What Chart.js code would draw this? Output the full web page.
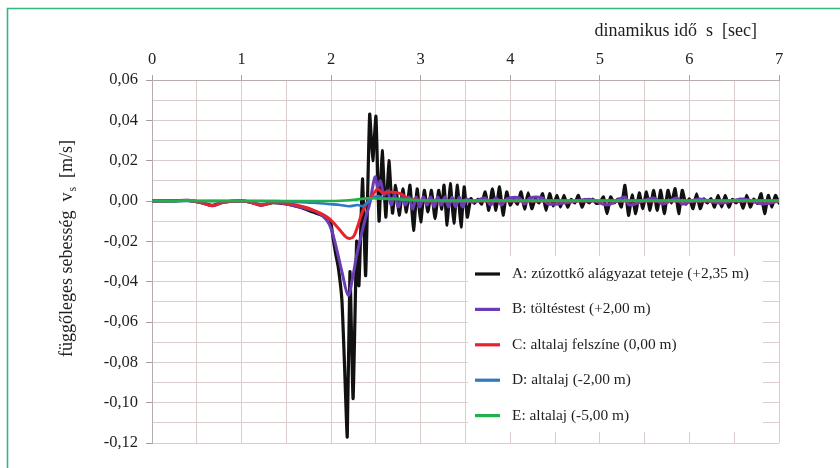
<!DOCTYPE html>
<html>
<head>
<meta charset="utf-8">
<script src="https://cdn.jsdelivr.net/npm/chart.js@4/dist/chart.umd.min.js"></script>
<style>
  html, body { margin: 0; padding: 0; background: #ffffff; }
  canvas { display: block; }
</style>
</head>
<body>
<canvas id="chart" width="840" height="468"></canvas>
<script>
// Axis texts
const xTitle = 'dinamikus idő  s  [sec]';
const yTitleMain = 'függőleges sebesség  v';
const yTitleSub = 's';
const yTitleTail = '  [m/s]';
const xTickLabels = ['0', '1', '2', '3', '4', '5', '6', '7'];
const yTickLabels = ['0,06', '0,04', '0,02', '0,00', '-0,02', '-0,04', '-0,06', '-0,08', '-0,10', '-0,12'];

// Series names and colours
const seriesNames = [
  'A: zúzottkő alágyazat teteje (+2,35 m)',
  'B: töltéstest (+2,00 m)',
  'C: altalaj felszíne (0,00 m)',
  'D: altalaj (-2,00 m)',
  'E: altalaj (-5,00 m)'
];
const seriesColors = ['#111111', '#6a3db4', '#e8232b', '#2f78c4', '#22b04e'];

// A: top of ballast (time s, velocity m/s)
const timeA = [
  0, 0.2, 0.4, 0.55, 0.67, 0.8, 1.0, 1.1, 1.22, 1.35,
  1.5, 1.6, 1.7, 1.8, 1.9, 1.99, 2.02, 2.05, 2.08, 2.12,
  2.15, 2.18, 2.21, 2.245, 2.285, 2.31, 2.35, 2.385, 2.43, 2.465,
  2.50, 2.535, 2.57, 2.61, 2.645, 2.685, 2.72, 2.76, 2.80, 2.84,
  2.88, 2.92, 2.96, 3.00, 3.04, 3.08, 3.12, 3.16, 3.20, 3.235,
  3.26, 3.295, 3.33, 3.37, 3.41, 3.45, 3.485, 3.52, 3.56, 3.60,
  3.64, 3.68, 3.72, 3.76, 3.80, 3.84, 3.88, 3.92, 3.96, 4.00,
  4.04, 4.08, 4.12, 4.16, 4.20, 4.24, 4.28, 4.32, 4.36, 4.40,
  4.44, 4.48, 4.52, 4.56, 4.60, 4.64, 4.68, 4.72, 4.76, 4.80,
  4.84, 4.88, 4.92, 4.96, 5.00, 5.04, 5.08, 5.12, 5.16, 5.20,
  5.24, 5.28, 5.32, 5.36, 5.40, 5.44, 5.48, 5.52, 5.56, 5.60,
  5.64, 5.68, 5.72, 5.76, 5.80, 5.84, 5.88, 5.92, 5.96, 6.00,
  6.04, 6.08, 6.12, 6.16, 6.20, 6.24, 6.28, 6.32, 6.36, 6.40,
  6.44, 6.48, 6.52, 6.56, 6.60, 6.64, 6.68, 6.72, 6.76, 6.80,
  6.84, 6.88, 6.92, 6.96, 7.00
];
const valuesA = [
  0, 0, 0.0003, -0.0008, -0.0022, -0.0005, 0, -0.0006, -0.002, -0.0008,
  -0.0015, -0.0025, -0.0038, -0.0055, -0.0072, -0.0095, -0.018, -0.026, -0.033, -0.049,
  -0.082, -0.117, -0.035, -0.098, -0.02, -0.042, 0.011, -0.037, 0.043, 0.02,
  0.042, -0.01, 0.025, -0.008, 0.02, -0.006, 0.0078, -0.007, 0.006, -0.0055,
  0.0078, -0.0145, 0.006, -0.0104, 0.0053, -0.0054, 0.0053, -0.0087, 0.0053, -0.004,
  0.0078, -0.012, 0.0086, -0.011, 0.0078, -0.0129, 0.007, -0.008, 0.0012, -0.0012,
  0.001, -0.0015, 0.0045, -0.0046, 0.006, -0.0046, 0.007, -0.007, 0.0045, -0.002,
  0.001, -0.0015, 0.0045, -0.004, 0.004, -0.0038, 0.001, -0.001, 0.0036, -0.0046,
  0.0036, -0.0025, 0.0028, -0.003, 0.0028, -0.003, 0.0008, -0.001, 0.0028, -0.003,
  0.0008, -0.001, 0.001, -0.0012, -0.0008, 0.002, -0.0063, 0.002, -0.001, 0.001,
  -0.003, 0.0078, -0.0071, 0.003, -0.0063, 0.004, -0.0038, 0.0045, -0.0046, 0.0053,
  -0.0046, 0.0053, -0.0063, 0.0053, -0.001, 0.0061, -0.0063, 0.0053, -0.0015, 0.001,
  -0.0038, 0.0036, -0.0038, 0.001, -0.001, 0.0012, -0.003, 0.0028, -0.003, 0.0028,
  -0.003, 0.0008, -0.001, 0.001, -0.0035, 0.0028, -0.003, 0.001, -0.0012, 0.0036,
  -0.0063, 0.0028, -0.003, 0.0028, -0.001
];

// B: embankment body
const timeB = [
  0, 0.4, 0.55, 0.67, 0.8, 1.0, 1.1, 1.22, 1.35, 1.5,
  1.6, 1.7, 1.8, 1.875, 1.95, 2.0, 2.06, 2.12, 2.19, 2.24,
  2.28, 2.32, 2.38, 2.43, 2.46, 2.49, 2.52, 2.55, 2.59, 2.63,
  2.67, 2.71, 2.75, 2.79, 2.83, 2.87, 2.91, 2.95, 2.99, 3.03,
  3.07, 3.11, 3.15, 3.19, 3.23, 3.27, 3.31, 3.35, 3.39, 3.43,
  3.47, 3.51, 3.58, 3.72, 3.78, 3.84, 3.90, 3.96, 4.1, 4.16,
  4.22, 4.36, 4.42, 4.6, 4.9, 5.08, 5.28, 5.33, 5.6, 5.7,
  5.86, 5.92, 6.1, 6.35, 6.6, 6.82, 7.0
];
const valuesB = [
  0, 0.0002, -0.0008, -0.0024, -0.0006, 0, -0.0006, -0.0021, -0.0008, -0.0015,
  -0.0025, -0.0035, -0.0048, -0.0065, -0.0095, -0.0138, -0.0236, -0.035, -0.0467, -0.038,
  -0.028, -0.02, -0.009, -0.0015, 0.006, 0.012, 0.007, 0.010, 0.003, 0.005,
  -0.002, 0.003, -0.003, 0.002, -0.002, 0.002, -0.004, 0.002, -0.003, 0.002,
  -0.002, 0.002, -0.003, 0.002, -0.002, 0.002, -0.003, 0.002, -0.003, 0.002,
  -0.003, 0.001, -0.0005, 0.0015, -0.002, 0.0015, -0.002, 0.001, 0.0015, -0.0015,
  0.0015, 0.0015, -0.0015, -0.001, 0.0008, -0.002, 0.002, -0.002, 0.0015, -0.0015,
  0.0015, -0.0015, 0.001, -0.001, 0.001, -0.0015, 0
];

// C: ground surface
const timeC = [
  0, 0.4, 0.55, 0.67, 0.8, 1.0, 1.1, 1.22, 1.35, 1.55,
  1.7, 1.8, 1.9, 1.98, 2.05, 2.1, 2.15, 2.2, 2.25, 2.3,
  2.34, 2.38, 2.42, 2.47, 2.52, 2.58, 2.65, 2.72, 2.78, 2.85,
  2.95, 3.1, 4.0, 5.0, 6.0, 7.0
];
const valuesC = [
  0, 0.0002, -0.0008, -0.0023, -0.0006, 0, -0.0006, -0.0021, -0.0008, -0.0015,
  -0.003, -0.0045, -0.0065, -0.0088, -0.012, -0.0145, -0.0172, -0.0186, -0.0176, -0.012,
  -0.0064, -0.0025, 0.0005, 0.0035, 0.0058, 0.004, 0.0045, 0.0042, 0.0035, 0.0015,
  0.0005, 0, 0, 0, 0, 0
];

// D: subsoil at -2 m
const timeD = [0, 1.4, 1.6, 1.8, 2.0, 2.1, 2.2, 2.3, 2.35, 2.4, 2.46, 2.52, 2.6, 2.7, 2.9, 3.1, 4.0, 5.0, 6.0, 7.0];
const valuesD = [0, 0, -0.0004, -0.0009, -0.0016, -0.002, -0.0026, -0.002, -0.0026, -0.001, 0.0015, 0.0025, 0.0012, 0.0012, 0.0005, 0, 0, 0, 0, 0];

// E: subsoil at -5 m
const timeE = [0, 0.3, 0.4, 0.5, 1.0, 2.0, 2.25, 2.4, 2.55, 2.75, 3.0, 3.5, 4.5, 5.5, 7.0];
const valuesE = [0, 0, 0.0004, 0, 0, 0, 0.0006, 0.0013, 0.0012, 0.0009, 0.0004, 0.0002, 0.0002, 0.0002, 0.0002];

const serif = '"Liberation Serif", "Times New Roman", serif';
const toPoints = (ts, vs) => ts.map((t, i) => ({ x: t, y: vs[i] }));

const seriesData = [
  toPoints(timeA, valuesA),
  toPoints(timeB, valuesB),
  toPoints(timeC, valuesC),
  toPoints(timeD, valuesD),
  toPoints(timeE, valuesE)
];
const lineWidths = [3.2, 3, 3, 2.6, 2.6];

const datasets = seriesData.map((pts, i) => ({
  label: seriesNames[i],
  data: pts,
  borderColor: seriesColors[i],
  backgroundColor: seriesColors[i],
  borderWidth: lineWidths[i],
  borderJoinStyle: 'round',
  borderCapStyle: 'round',
  pointRadius: 0,
  tension: i === 0 ? 0.15 : 0.35,
  fill: false,
  order: 5 - i
}));

const isMajorY = v => Math.round(v * 100) % 2 === 0;
const isMajorX = v => Math.abs(v - Math.round(v)) < 1e-6;

// Frame, axis titles and the legend box
const decorations = {
  id: 'decorations',
  beforeDraw(chart) {
    const c = chart.ctx;
    c.save();
    c.fillStyle = '#ffffff';
    c.fillRect(0, 0, chart.width, chart.height);
    c.strokeStyle = '#35b67a';
    c.lineWidth = 1.6;
    c.beginPath();
    c.moveTo(7.5, chart.height);
    c.lineTo(7.5, 8.5);
    c.lineTo(chart.width, 8.5);
    c.stroke();
    c.restore();
  },
  afterDraw(chart) {
    const c = chart.ctx;
    c.save();
    c.fillStyle = '#1e1e1e';

    // top axis title
    c.font = '18px ' + serif;
    c.textAlign = 'right';
    c.textBaseline = 'middle';
    c.fillText(xTitle, 757, 31);

    // rotated left axis title with subscript
    c.translate(67, 249);
    c.rotate(-Math.PI / 2);
    c.textAlign = 'left';
    c.font = '18px ' + serif;
    const w1 = c.measureText(yTitleMain).width;
    const w3 = c.measureText(yTitleTail).width;
    c.font = '12px ' + serif;
    const w2 = c.measureText(yTitleSub).width;
    let x0 = -(w1 + w2 + w3) / 2;
    c.font = '18px ' + serif;
    c.fillText(yTitleMain, x0, 0);
    c.font = '12px ' + serif;
    c.fillText(yTitleSub, x0 + w1 + 1, 6);
    c.font = '18px ' + serif;
    c.fillText(yTitleTail, x0 + w1 + w2 + 1, 0);
    c.restore();

    // legend
    c.save();
    c.fillStyle = '#ffffff';
    c.fillRect(468, 256, 295, 176);
    c.font = '15.4px ' + serif;
    c.textAlign = 'left';
    c.textBaseline = 'middle';
    seriesNames.forEach((name, i) => {
      const y = 274 + i * 35.4;
      c.strokeStyle = seriesColors[i];
      c.lineWidth = 3.2;
      c.beginPath();
      c.moveTo(475, y);
      c.lineTo(500, y);
      c.stroke();
      c.fillStyle = '#1e1e1e';
      c.fillText(name, 512, y);
    });
    c.restore();
  }
};

new Chart(document.getElementById('chart'), {
  type: 'line',
  data: { datasets },
  options: {
    responsive: false,
    animation: false,
    layout: { padding: { top: 0, left: 0, right: 61, bottom: 25 } },
    plugins: { legend: { display: false }, tooltip: { enabled: false } },
    scales: {
      x: {
        type: 'linear',
        position: 'top',
        min: 0,
        max: 7,
        afterFit(scale) { scale.height = 80; },
        ticks: {
          stepSize: 0.5,
          autoSkip: false,
          maxRotation: 0,
          padding: 5,
          color: '#1e1e1e',
          font: { family: serif, size: 16.5 },
          callback: v => isMajorX(v) ? xTickLabels[Math.round(v)] : ''
        },
        grid: {
          color: '#dccdcd',
          lineWidth: 1,
          tickLength: 5,
          tickColor: ctx => (ctx.tick && isMajorX(ctx.tick.value)) ? '#a89f9f' : 'rgba(0,0,0,0)'
        },
        border: { display: true, color: '#b8adad' }
      },
      y: {
        type: 'linear',
        min: -0.12,
        max: 0.06,
        afterFit(scale) { scale.width = 152; },
        ticks: {
          stepSize: 0.01,
          autoSkip: false,
          padding: 8,
          color: '#1e1e1e',
          font: { family: serif, size: 16.5 },
          callback: v => isMajorY(v) ? yTickLabels[(6 - Math.round(v * 100)) / 2] : ''
        },
        grid: {
          color: '#dccdcd',
          lineWidth: 1,
          tickLength: 6,
          tickColor: ctx => (ctx.tick && isMajorY(ctx.tick.value)) ? '#a89f9f' : 'rgba(0,0,0,0)'
        },
        border: { display: true, color: '#b8adad' }
      }
    }
  },
  plugins: [decorations]
});
</script>
</body>
</html>
